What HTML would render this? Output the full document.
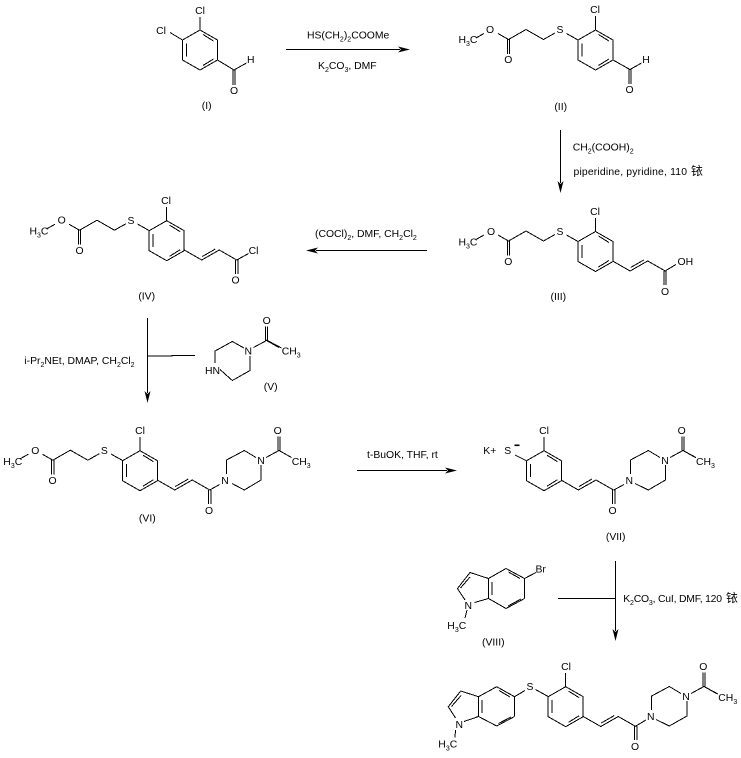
<!DOCTYPE html>
<html><head><meta charset="utf-8"><style>
html,body{margin:0;padding:0;background:#fff}
svg{display:block}
.b{fill:none;stroke:#000;stroke-width:1;shape-rendering:crispEdges}
text{font-family:"Liberation Sans","Noto Sans CJK SC",sans-serif;font-size:10.4px;fill:#000}
.m{text-anchor:middle}
.s{font-size:7px}
.g{font-size:12px}
</style></head><body>
<svg width="741" height="758" viewBox="0 0 741 758" xmlns="http://www.w3.org/2000/svg">
<defs>
<path id="r" class="b" d="M0 0L17.5 10V30L0 40L-17.5 30V10ZM-13.5 13.5V26.5M3 4.5L13.5 11M13.5 29L3 35.5"/>
<path id="es" class="b" d="M0 0L-11.5 6.5L-29 -3.5L-46.5 6.5M-47.7 6.5V21M-45.3 6.5V21M-46.5 6.5L-57 0.5M-71 0.5L-79 5"/>
<path id="v" class="b" d="M0 0L17.4 10L35 0L52.5 10M18 6.5L31 -1"/>
<path id="ac" class="b" d="M0 0L13 -7L25.5 0M11.8 -7V-21M14.2 -7V-21"/>
</defs>

<!-- I -->
<use href="#r" x="200" y="30"/>
<path class="b" d="M200 30V17M182.5 40L170 32.5M217.5 60L234 70L246.5 63M232.8 70V85M235.2 70V85"/>
<text class="m" x="200" y="14">Cl</text><text class="m" x="161" y="34">Cl</text>
<text class="m" x="250.7" y="63">H</text><text class="m" x="234" y="94">O</text>
<text class="m" x="206.7" y="109">(I)</text>

<path class="b" d="M286 49.5H400"/><polygon points="410,49.5 398,46.5 401,49.5 398,52.5"/>
<text x="307" y="38.5">HS(CH<tspan class="s" dy="3">2</tspan><tspan dy="-3">)</tspan><tspan class="s" dy="3">2</tspan><tspan dy="-3">COOMe</tspan></text>
<text x="318" y="69">K<tspan class="s" dy="3">2</tspan><tspan dy="-3">CO</tspan><tspan class="s" dy="3">3</tspan><tspan dy="-3">, DMF</tspan></text>

<!-- II -->
<use href="#r" x="595.5" y="30"/>
<use href="#es" x="555" y="33"/>
<path class="b" d="M595.5 30V16M578 40L566.5 33.5M613 60L630 69.5L641.5 63M628.8 69.5V84M631.2 69.5V84"/>
<text class="m" x="595" y="13">Cl</text><text class="m" x="560" y="33">S</text><text class="m" x="490" y="33">O</text>
<text class="m" x="508.3" y="63">O</text>
<text x="458.5" y="43">H<tspan class="s" dy="3">3</tspan><tspan dy="-3">C</tspan></text>
<text class="m" x="646" y="63">H</text><text class="m" x="629.5" y="93">O</text>
<text class="m" x="560.7" y="110">(II)</text>

<path class="b" d="M560.5 130V183"/><polygon points="560.5,193 557.5,181 560.5,184 563.5,181"/>
<text x="572.7" y="150.5">CH<tspan class="s" dy="3">2</tspan><tspan dy="-3">(COOH)</tspan><tspan class="s" dy="3">2</tspan></text>
<text x="573.5" y="175" textLength="113.5">piperidine, pyridine, 110</text>
<text class="g" x="691" y="175">铱</text>

<!-- III -->
<use href="#r" x="595.5" y="231.5"/>
<use href="#es" x="555" y="234.5"/>
<use href="#v" x="612.7" y="261"/>
<path class="b" d="M595.5 231.5V218M578 241.5L566.5 235M665 271L676 264.5M663.8 271V285M666.2 271V285"/>
<text class="m" x="595" y="215">Cl</text><text class="m" x="560" y="235">S</text><text class="m" x="491" y="235">O</text>
<text class="m" x="508.3" y="265">O</text>
<text x="458.5" y="245.5">H<tspan class="s" dy="3">3</tspan><tspan dy="-3">C</tspan></text>
<text x="677.5" y="265">OH</text><text class="m" x="665" y="295">O</text>
<text class="m" x="558.3" y="300">(III)</text>

<path class="b" d="M316 250.5H427"/><polygon points="306,250.5 318,247.5 315,250.5 318,253.5"/>
<text x="315" y="237">(COCl)<tspan class="s" dy="3">2</tspan><tspan dy="-3">, DMF, CH</tspan><tspan class="s" dy="3">2</tspan><tspan dy="-3">Cl</tspan><tspan class="s" dy="3">2</tspan></text>

<!-- IV -->
<use href="#r" x="166.7" y="220.7"/>
<use href="#es" x="126" y="223.7"/>
<use href="#v" x="184.3" y="250"/>
<path class="b" d="M166.7 220.7V207M149 230.5L137.5 224M236.8 260L248.5 253.5M235.6 260V274M238 260V274"/>
<text class="m" x="166" y="204">Cl</text><text class="m" x="131" y="224">S</text><text class="m" x="61.7" y="223.5">O</text>
<text class="m" x="79.5" y="254">O</text>
<text x="29.5" y="234.5">H<tspan class="s" dy="3">3</tspan><tspan dy="-3">C</tspan></text>
<text class="m" x="253.5" y="254">Cl</text><text class="m" x="235.5" y="283.5">O</text>
<text class="m" x="146.7" y="299.5">(IV)</text>

<!-- V arrow -->
<path class="b" d="M147.5 318V393M147.5 356H172V355.5H195"/><polygon points="147.5,403 144.5,391 147.5,394 150.5,391"/>
<text x="24.3" y="364">i-Pr<tspan class="s" dy="3">2</tspan><tspan dy="-3">NEt, DMAP, CH</tspan><tspan class="s" dy="3">2</tspan><tspan dy="-3">Cl</tspan><tspan class="s" dy="3">2</tspan></text>
<path class="b" d="M244 348L232.3 341.5L215 351V363M220 369.5L232.3 380.5L250 370.5V356"/>
<use href="#ac" x="253.5" y="347.5"/>
<path class="b" d="M266.5 340L281.5 348"/>
<text class="m" x="248.3" y="354.7">N</text><text x="205" y="374">HN</text><text class="m" x="266.7" y="324">O</text>
<text x="281.7" y="354.7">CH<tspan class="s" dy="3">3</tspan></text>
<text class="m" x="270.7" y="390">(V)</text>

<!-- VI -->
<use href="#r" x="140" y="450.7"/>
<use href="#es" x="99.3" y="453.7"/>
<use href="#v" x="157.3" y="480"/>
<path class="b" d="M140 450.7V437M122.5 460.5L111 454M209.8 490L219.5 484.5M208.6 490V504M211 490V504M226.5 474V460L244.3 450.5L256 457.5M261 465V480L244.3 490L232 483.5"/>
<use href="#ac" x="266" y="457.5"/>
<path class="b" d="M279 450.5L291.5 457.5"/>
<text class="m" x="140" y="434">Cl</text><text class="m" x="104.3" y="454">S</text><text class="m" x="35.3" y="454">O</text>
<text class="m" x="52.5" y="484">O</text>
<text x="3.3" y="465">H<tspan class="s" dy="3">3</tspan><tspan dy="-3">C</tspan></text>
<text class="m" x="209" y="514">O</text><text class="m" x="225" y="484">N</text><text class="m" x="261" y="464">N</text>
<text class="m" x="277.7" y="434">O</text>
<text x="291.7" y="465">CH<tspan class="s" dy="3">3</tspan></text>
<text class="m" x="147.3" y="521.5">(VI)</text>

<path class="b" d="M357 470.5H447"/><polygon points="457,470.5 445,467.5 448,470.5 445,473.5"/>
<text x="367" y="458">t-BuOK, THF, rt</text>

<!-- VII -->
<use href="#r" x="544" y="450.7"/>
<use href="#v" x="561" y="480"/>
<path class="b" d="M544 450.7V437M526 460.5L515 455M613.8 490L624 484.5M612.6 490V504M615 490V504M630.5 474V460L648.3 450.5L660 457.5M665.5 465V480L648.3 490L635 483.5"/>
<use href="#ac" x="670" y="457.5"/>
<path class="b" d="M683 450.5L696 457.5"/>
<rect x="514.5" y="444.5" width="5" height="1.6"/>
<text x="483.3" y="454">K+</text>
<text class="m" x="544" y="434">Cl</text><text class="m" x="507.7" y="454">S</text>
<text class="m" x="612.5" y="514">O</text><text class="m" x="629.3" y="484">N</text><text class="m" x="665" y="464">N</text>
<text class="m" x="681.7" y="434">O</text>
<text x="696" y="465">CH<tspan class="s" dy="3">3</tspan></text>
<text class="m" x="615.7" y="540">(VII)</text>

<!-- VIII -->
<path class="b" d="M506 568.5L524.5 578.5"/>
<path class="b" d="M524.5 578.5L524.5 598.5"/>
<path class="b" d="M524.5 598.5L506 608.5"/>
<path class="b" d="M506 608.5L488.5 598.5"/>
<path class="b" d="M488.5 598.5L488.5 578.5"/>
<path class="b" d="M488.5 578.5L506 568.5"/>
<path class="b" d="M492 582V595M508.5 572L520 578.5M521 599L508 606"/>
<path class="b" d="M488.5 578.5L470 572.5L457.5 588.5L465 600M474.5 602.5L488.5 598.5M460.5 588L470 577M524.5 578.5L536 572.5M467 610L465 618"/>
<text x="535.5" y="572.5">Br</text><text class="m" x="468.3" y="609">N</text>
<text x="447.3" y="629">H<tspan class="s" dy="3">3</tspan><tspan dy="-3">C</tspan></text>
<text class="m" x="493.3" y="645.7">(VIII)</text>

<path class="b" d="M615.5 561V631M558 598.5H615.5"/><polygon points="615.5,641 612.5,629 615.5,632 618.5,629"/>
<text x="623.3" y="602" letter-spacing="-0.2">K<tspan class="s" dy="3">2</tspan><tspan dy="-3">CO</tspan><tspan class="s" dy="3">3</tspan><tspan dy="-3">, CuI, DMF, 120</tspan></text>
<text class="g" x="726" y="602">铱</text>

<!-- final -->
<path class="b" d="M496.7 686.7L514.5 696.7"/>
<path class="b" d="M514.5 696.7L514.5 716.5"/>
<path class="b" d="M514.5 716.5L496.7 726"/>
<path class="b" d="M496.7 726L478.5 716.5"/>
<path class="b" d="M478.5 716.5L478.5 696.7"/>
<path class="b" d="M478.5 696.7L496.7 686.7"/>
<path class="b" d="M482 700V713M499 690.5L510 697M511 717L498.5 723.5M478.5 696.7L460.7 691L448.3 706.7L455.5 718M464 721.5L478.5 716.5M451.5 706.5L461 695.5M455.5 730L455 737.5M514.5 696.7L525 690.5M535.5 689.5L548.5 696.7"/>
<use href="#r" x="565.7" y="686.7"/>
<use href="#v" x="583.3" y="716.5"/>
<path class="b" d="M565.7 686.7V673M635.8 726L646 720M634.6 726V740M637 726V740M651.7 710V696L669.3 686.5L681 693.5M687 701V716L669.3 726L656 719.5"/>
<use href="#ac" x="691" y="693.5"/>
<path class="b" d="M704 686.5L718 694"/>
<text class="m" x="459.3" y="728">N</text>
<text x="438.3" y="747.5">H<tspan class="s" dy="3">3</tspan><tspan dy="-3">C</tspan></text>
<text class="m" x="530" y="690">S</text><text class="m" x="566" y="670">Cl</text>
<text class="m" x="635" y="750">O</text><text class="m" x="650.7" y="720">N</text><text class="m" x="686" y="700">N</text>
<text class="m" x="703.3" y="670">O</text>
<text x="718.3" y="701">CH<tspan class="s" dy="3">3</tspan></text>
</svg>
</body></html>
